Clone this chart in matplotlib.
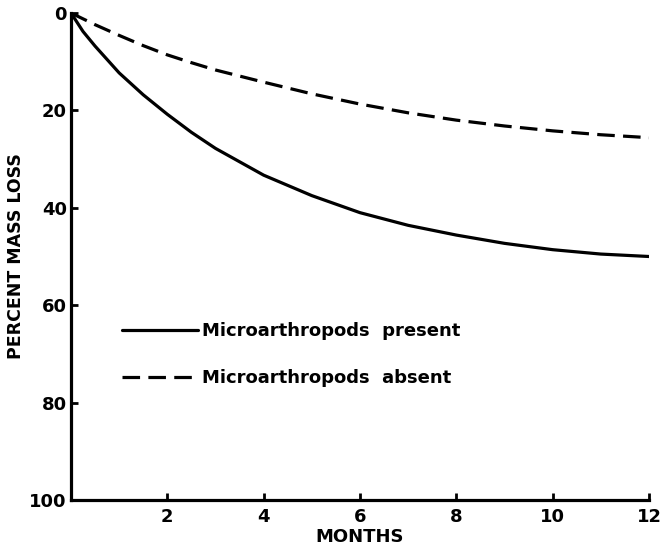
import matplotlib
matplotlib.use("Agg")
import matplotlib.pyplot as plt

months = [0, 0.25, 0.5, 1, 1.5, 2, 2.5, 3, 4, 5, 6, 7, 8, 9, 10, 11, 12]
present = [0, 3.8, 6.8, 12.3, 16.8, 20.8, 24.5, 27.8, 33.3, 37.5, 41, 43.6, 45.6, 47.3, 48.6, 49.5, 50]
absent = [0, 1.2, 2.4, 4.6, 6.7, 8.6, 10.2, 11.7, 14.2, 16.6, 18.7, 20.5, 22.0, 23.2, 24.2, 25.0, 25.6]
xticks = [2, 4, 6, 8, 10, 12]
yticks = [0, 20, 40, 60, 80, 100]
labels = ["Microarthropods  present", "Microarthropods  absent"]

plt.rcParams['font.family'] = ['DejaVu Sans']
plt.rcParams['font.weight'] = 'bold'

fig = plt.figure(figsize=(6.64, 5.58), dpi=100)
ax = fig.add_axes([71/664, 1-500/558, (649-71)/664, (500-13)/558])

ax.plot(months, present, color='black', lw=2.3, solid_capstyle='round', label=labels[0])
ax.plot(months, absent, color='black', lw=2.3, dashes=(5.5, 2.6), label=labels[1])

ax.set_xlim(0, 12)
ax.set_ylim(100, 0)
ax.set_xticks(xticks)
ax.set_yticks(yticks)
ax.tick_params(axis='both', direction='in', length=5, width=2, labelsize=13)
ax.tick_params(axis='x', pad=6)
ax.tick_params(axis='y', pad=3)
for s in ['top', 'right']:
    ax.spines[s].set_visible(False)
for s in ['left', 'bottom']:
    ax.spines[s].set_linewidth(2.3)

ax.set_xlabel('MONTHS', fontsize=13, fontweight='bold', labelpad=1)
ax.set_ylabel('PERCENT MASS LOSS', fontsize=12.5, fontweight='bold', labelpad=3)

leg = ax.legend(loc='upper left', bbox_to_anchor=(0.088, 0.365), frameon=False,
                fontsize=13, handlelength=4.2, handletextpad=0.25, labelspacing=1.6,
                borderaxespad=0, borderpad=0)

fig.savefig('out.png', dpi=100)
